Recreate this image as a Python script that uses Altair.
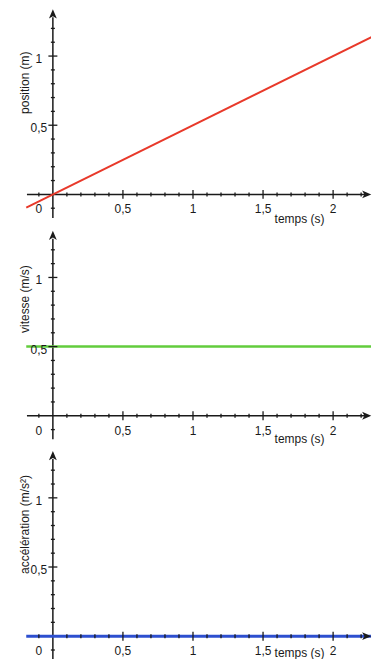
import altair as alt
import pandas as pd

# ---- data ----
times = [-0.19, 2.34]
position = [-0.095, 1.17]
vitesse = [0.5, 0.5]
acceleration = [0.0, 0.0]

x_major = [0.5, 1.0, 1.5, 2.0]
x_major_labels = ["0,5", "1", "1,5", "2"]
x_minor = [-0.1, 0.1, 0.2, 0.3, 0.4, 0.6, 0.7, 0.8, 0.9, 1.1, 1.2, 1.3, 1.4,
           1.6, 1.7, 1.8, 1.9, 2.1, 2.2]
y_major = [0.5, 1.0]
y_major_labels = ["0,5", "1"]
y_minor = [-0.1, 0.1, 0.2, 0.3, 0.4, 0.6, 0.7, 0.8, 0.9, 1.1, 1.2]

x_axis_extent = [-0.185, 2.235]
y_axis_extent = [-0.17, 1.28]
arrow_tip_x = 2.235
arrow_tip_y = 1.30

y_titles = ["position (m)", "vitesse (m/s)", "accélération (m/s²)"]
x_title = "temps (s)"
x_title_at = 1.76
series = [position, vitesse, acceleration]
colors = ["#e8392a", "#62cc3c", "#2d4fcf"]
line_widths = [2, 2.5, 3]

# ---- layout ----
W = 364
heights = [221, 221, 209]
PX_X = 140.5
PX_Y = 138.7
ORIGIN_X = 45
axis_tops = [185, 186, 186]
title_ys = [73, 69, 74]
x_title_dy = [25, 23, 17]
FONT = "Liberation Sans"
AX = "#1a1a1a"
ARROW = "M0,-1 L0.75,0.75 L0,0.3 L-0.75,0.75 Z"

xs = alt.Scale(domain=[-ORIGIN_X / PX_X, (W - ORIGIN_X) / PX_X], nice=False, zero=False)


def panel(i):
    top = axis_tops[i]
    H = heights[i]
    ys = alt.Scale(domain=[-(H - top) / PX_Y, top / PX_Y], nice=False, zero=False)
    X = lambda f: alt.X(f, type="quantitative", scale=xs, axis=None)
    Y = lambda f: alt.Y(f, type="quantitative", scale=ys, axis=None)

    xaxis = alt.Chart(pd.DataFrame({"a": [x_axis_extent[0]], "b": [x_axis_extent[1]], "y": [0]})).mark_rule(
        color=AX, strokeWidth=1.5).encode(x=X("a"), x2="b", y=Y("y"))
    yaxis = alt.Chart(pd.DataFrame({"x": [0], "a": [y_axis_extent[0]], "b": [y_axis_extent[1]]})).mark_rule(
        color=AX, strokeWidth=1.5, clip=True).encode(x=X("x"), y=Y("a"), y2="b")

    line = alt.Chart(pd.DataFrame({"t": times, "v": series[i]})).mark_line(
        color=colors[i], strokeWidth=line_widths[i], clip=True).encode(x=X("t"), y=Y("v"))

    xminor = alt.Chart(pd.DataFrame({"t": x_minor, "y": [0] * len(x_minor)})).mark_tick(
        orient="vertical", size=4, thickness=1.3, color=AX, opacity=1).encode(x=X("t"), y=Y("y"))
    xmajor = alt.Chart(pd.DataFrame({"t": x_major, "y": [0] * len(x_major)})).mark_tick(
        orient="vertical", size=9, thickness=1.3, color=AX, opacity=1).encode(x=X("t"), y=Y("y"))
    yminor = alt.Chart(pd.DataFrame({"x": [0] * len(y_minor), "v": y_minor})).mark_tick(
        orient="horizontal", size=4, thickness=1.3, color=AX, opacity=1).encode(x=X("x"), y=Y("v"))
    ymajor = alt.Chart(pd.DataFrame({"x": [0] * len(y_major), "v": y_major})).mark_tick(
        orient="horizontal", size=9, thickness=1.3, color=AX, opacity=1).encode(x=X("x"), y=Y("v"))

    up = alt.Chart(pd.DataFrame({"x": [0], "v": [arrow_tip_y]})).mark_point(
        shape=ARROW, size=110, filled=True, color=AX, opacity=1).encode(x=X("x"), y=Y("v"))
    right = alt.Chart(pd.DataFrame({"t": [arrow_tip_x], "y": [0]})).mark_point(
        shape=ARROW, size=110, filled=True, color=AX, opacity=1, angle=90).encode(x=X("t"), y=Y("y"))

    txt = dict(font=FONT, fontSize=12, color=AX, baseline="middle", align="center", clip=True)
    xlab = alt.Chart(pd.DataFrame({"t": x_major, "y": [0] * len(x_major), "s": x_major_labels})).mark_text(
        dy=15, **txt).encode(x=X("t"), y=Y("y"), text="s:N")
    zero = alt.Chart(pd.DataFrame({"t": [0], "y": [0], "s": ["0"]})).mark_text(
        dx=-14, dy=15, **txt).encode(x=X("t"), y=Y("y"), text="s:N")
    ylab = alt.Chart(pd.DataFrame({"x": [0] * len(y_major), "v": y_major, "s": y_major_labels})).mark_text(
        dx=-14, dy=3, **txt).encode(x=X("x"), y=Y("v"), text="s:N")
    xt = alt.Chart(pd.DataFrame({"t": [x_title_at], "y": [0], "s": [x_title]})).mark_text(
        dy=x_title_dy[i], **txt).encode(x=X("t"), y=Y("y"), text="s:N")
    yt = alt.Chart(pd.DataFrame({"s": [y_titles[i]]})).mark_text(
        angle=270, **txt).encode(x=alt.value(17), y=alt.value(title_ys[i]), text="s:N")

    return alt.layer(xaxis, yaxis, line, xminor, xmajor, yminor, ymajor, up, right,
                     xlab, zero, ylab, xt, yt).properties(width=W, height=H)


chart = alt.vconcat(panel(0), panel(1), panel(2), spacing=0).properties(
    padding=0, background="white"
).configure_view(strokeWidth=0)

chart.save("out.html", embed_options={"renderer": "svg", "actions": False})
